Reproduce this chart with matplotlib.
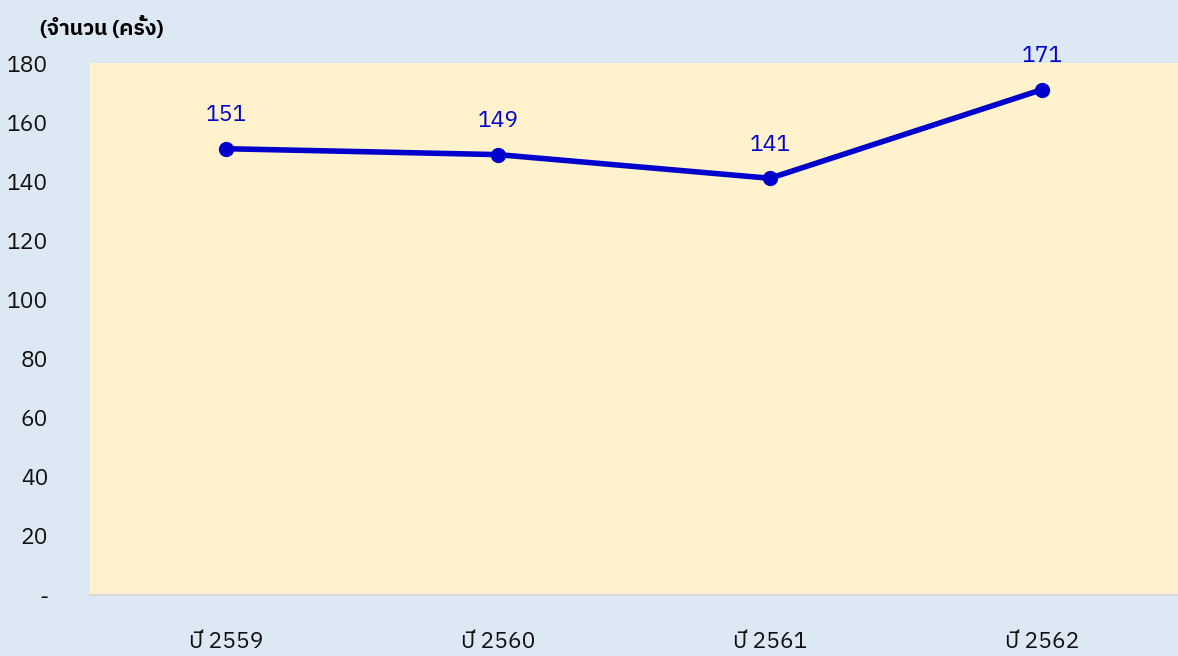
import matplotlib
matplotlib.use("Agg")
import matplotlib.pyplot as plt

plt.rcParams['font.family'] = ['IBM Plex Sans Thai', 'Noto Sans Thai', 'DejaVu Sans']

years = ['ปี 2559', 'ปี 2560', 'ปี 2561', 'ปี 2562']
counts = [151, 149, 141, 171]
yticks = [0, 20, 40, 60, 80, 100, 120, 140, 160, 180]
ytick_labels = ['-', '20', '40', '60', '80', '100', '120', '140', '160', '180']

fig = plt.figure(figsize=(11.78, 6.56), dpi=100, facecolor='#DDE8F5')
ax = fig.add_axes([90/1178, 61/656, 1 - 90/1178, (595-63)/656])
ax.set_facecolor('#FFF2CC')
ax.plot(range(len(years)), counts, color='#0000CC', lw=4, marker='o', ms=10)
for i, v in enumerate(counts):
    ax.annotate(str(v), (i, v), xytext=(0, 16), textcoords='offset points',
                ha='center', va='bottom', fontsize=16.5, color='#0000CC')
ax.set_xlim(-0.5, 3.5)
ax.set_ylim(0, 180)
ax.set_xticks(range(len(years)), years)
ax.set_yticks(yticks, ytick_labels)
ax.tick_params(length=0, labelsize=16.5, colors='#111111')
ax.tick_params(axis='x', pad=26)
ax.tick_params(axis='y', pad=30)
for s in ['top', 'right', 'left']:
    ax.spines[s].set_visible(False)
ax.spines['bottom'].set_color('#D9D9D9')
ax.spines['bottom'].set_linewidth(1.5)
fig.text(40/1178, 1 - 27/656, '(จำนวน (ครั้ง)', fontsize=15, fontweight='bold',
         ha='left', va='center')
fig.savefig('out.png', facecolor=fig.get_facecolor())
